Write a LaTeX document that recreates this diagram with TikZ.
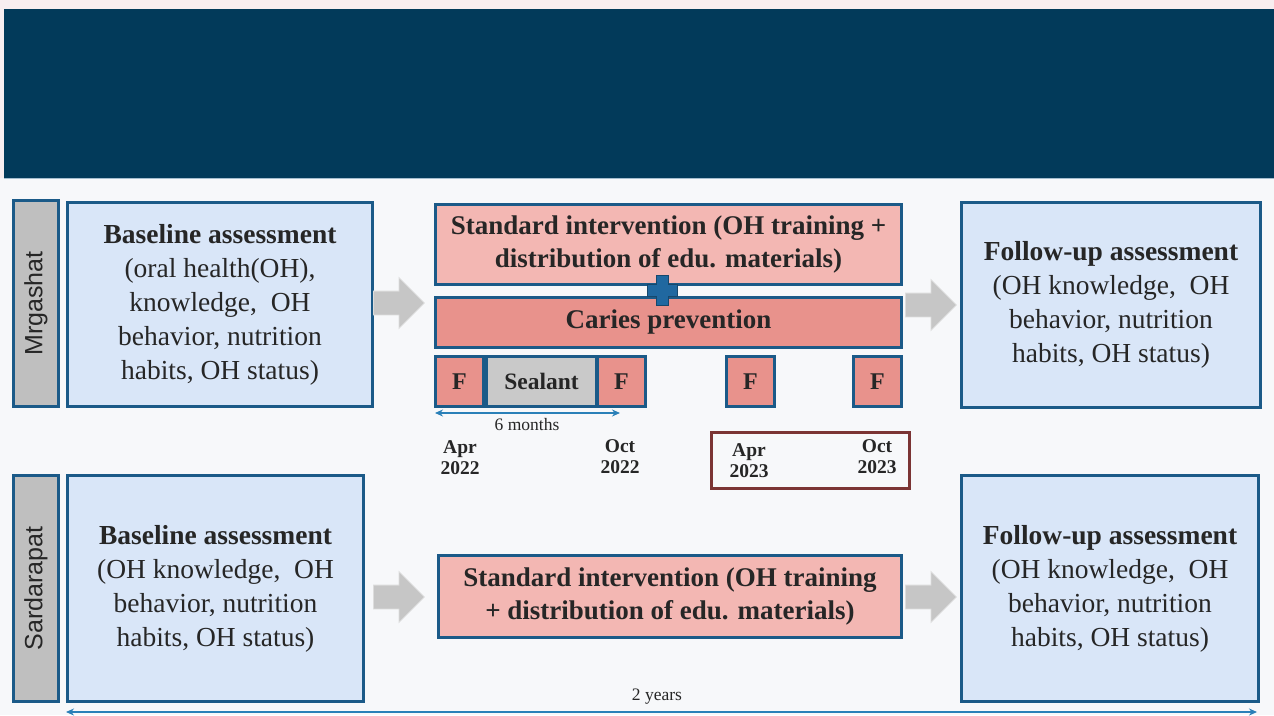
\documentclass[tikz,border=0pt]{standalone}
\usepackage{fontspec}
\setmainfont{Liberation Serif}
\newfontfamily\tnr{Liberation Serif}
\newfontfamily\lsans{Liberation Sans}
\usetikzlibrary{arrows.meta,shapes.arrows,calc}
\definecolor{navyband}{HTML}{023A5A}
\definecolor{topbg}{HTML}{F8EEF0}
\definecolor{pagebg}{HTML}{F7F8FA}
\definecolor{bord}{HTML}{1B5A88}
\definecolor{lblue}{HTML}{D9E6F8}
\definecolor{lpink}{HTML}{F3B7B3}
\definecolor{salmon}{HTML}{E8928C}
\definecolor{lgray}{HTML}{BFBFBF}
\definecolor{sgray}{HTML}{C9C9C9}
\definecolor{agray}{HTML}{C6C6C6}
\definecolor{txt}{HTML}{262626}
\definecolor{plusblue}{HTML}{2068A0}
\definecolor{datebord}{HTML}{7B3434}
\definecolor{tline}{HTML}{2A80B8}
\begin{document}
\begin{tikzpicture}[x=1pt,y=-1pt,
  box/.style={draw=bord,line width=3pt,text=txt,align=center,inner sep=0pt,anchor=north west},
  assess/.style={box,fill=lblue,font=\tnr\fontsize{27.5}{34}\selectfont},
  interv/.style={box,fill=lpink,font=\tnr\bfseries\fontsize{27}{33}\selectfont},
  fbox/.style={box,fill=salmon,font=\tnr\bfseries\fontsize{24}{26}\selectfont,minimum width=48pt,minimum height=50pt},
  site/.style={box,fill=lgray,minimum width=45pt},
  sitetxt/.style={rotate=90,text=txt,font=\lsans\fontsize{25}{28}\selectfont,inner sep=0pt},
  blockarrow/.style={single arrow,fill=agray,draw=agray!60!white,line width=0.8pt,minimum height=51pt,minimum width=50pt,inner ysep=11.5pt,inner xsep=0pt,single arrow head extend=13.5pt},
  datetxt/.style={text=txt,align=center,font=\tnr\bfseries\fontsize{19.5}{21}\selectfont,inner sep=0pt},
  smalltxt/.style={text=txt,font=\tnr\fontsize{17.5}{19}\selectfont,inner sep=0pt},
  tarrow/.style={draw=tline,line width=1.2pt,{Stealth[length=8pt,width=7pt]}-{Stealth[length=8pt,width=7pt]}}
]
\useasboundingbox (0,0) rectangle (1274,715);
\fill[topbg] (0,0) rectangle (1274,715);
\fill[pagebg] (0,178) rectangle (1274,715);
\fill[navyband] (4,9) rectangle (1274,178);
\draw[line width=1pt, draw=bord!40!white] (4,178.5) -- (1274,178.5);

% Row 1 : Mrgashat
\node[site,minimum height=206pt] (site1) at (12,199) {};
\node[sitetxt] (site1t) at (site1.center) {Mrgashat};
\node[assess,minimum width=305pt,minimum height=204pt] (base1) at (66,201)
  {\textbf{Baseline assessment}\\(oral health(OH),\\knowledge,\ \ OH\\behavior,\ nutrition\\habits,\ OH status)};
\node[interv,minimum width=466pt,minimum height=80pt] (std1) at (434,203)
  {Standard intervention (OH training +\\distribution of edu. materials)};
\node[box,fill=salmon,minimum width=466pt,minimum height=50pt,font=\tnr\bfseries\fontsize{27}{28}\selectfont] (car) at (434,296) {Caries prevention};
\node[fbox] (f1) at (434,355) {F};
\node[box,fill=sgray,minimum width=110pt,minimum height=50pt,font=\tnr\bfseries\fontsize{23.5}{26}\selectfont] (seal) at (485,355) {Sealant};
\node[fbox] (f2) at (596,355) {F};
\node[fbox] (f3) at (725,355) {F};
\node[fbox] (f4) at (852,355) {F};
\node[assess,minimum width=299pt,minimum height=205pt] (fu1) at (960,201)
  {\textbf{Follow-up assessment}\\(OH knowledge,\ \ OH\\behavior,\ nutrition\\habits,\ OH status)};

% plus sign
\coordinate (plus) at (662,290);
\filldraw[fill=plusblue,draw=bord!80!black,line width=1pt]
  ($(plus)+(-6,-15)$) -- ($(plus)+(6,-15)$) -- ($(plus)+(6,-6)$) -- ($(plus)+(15,-6)$) -- ($(plus)+(15,6)$) -- ($(plus)+(6,6)$) -- ($(plus)+(6,15)$) -- ($(plus)+(-6,15)$) -- ($(plus)+(-6,6)$) -- ($(plus)+(-15,6)$) -- ($(plus)+(-15,-6)$) -- ($(plus)+(-6,-6)$) -- cycle;

% block arrows row 1
\node[blockarrow,anchor=tail] (a1) at (373,303) {};
\node[blockarrow,anchor=tail] (a2) at (905,305) {};

% 6 months
\coordinate (m0) at (435,413);
\coordinate (m1) at (620,413);
\draw[tarrow] (m0) -- (m1);
\node[smalltxt] (six) at (527,425) {6 months};

% dates
\node[datetxt] (d1) at (460,458) {Apr\\2022};
\node[datetxt] (d2) at (620,457) {Oct\\2022};
\node[draw=datebord,line width=3pt,minimum width=198pt,minimum height=56pt,inner sep=0pt,anchor=north west] (dbox) at (710,431) {};
\node[datetxt] (d3) at (749,461) {Apr\\2023};
\node[datetxt] (d4) at (877,457) {Oct\\2023};

% Row 2 : Sardarapat
\node[site,minimum height=226pt] (site2) at (12,474) {};
\node[sitetxt] (site2t) at (site2.center) {Sardarapat};
\node[assess,minimum width=296pt,minimum height=226pt] (base2) at (66,474)
  {\textbf{Baseline assessment}\\(OH knowledge,\ \ OH\\behavior,\ nutrition\\habits,\ OH status)};
\node[interv,minimum width=463pt,minimum height=82pt] (std2) at (437,554)
  {Standard intervention (OH training\\+ distribution of edu. materials)};
\node[assess,minimum width=297pt,minimum height=226pt] (fu2) at (960,474)
  {\textbf{Follow-up assessment}\\(OH knowledge,\ \ OH\\behavior,\ nutrition\\habits,\ OH status)};
\node[blockarrow,anchor=tail] (a3) at (373,597) {};
\node[blockarrow,anchor=tail] (a4) at (905,597) {};

% 2 years
\coordinate (y0) at (66,712);
\coordinate (y1) at (1257,712);
\draw[tarrow] (y0) -- (y1);
\node[smalltxt] (two) at (657,697) {2 years};
\end{tikzpicture}
\end{document}
